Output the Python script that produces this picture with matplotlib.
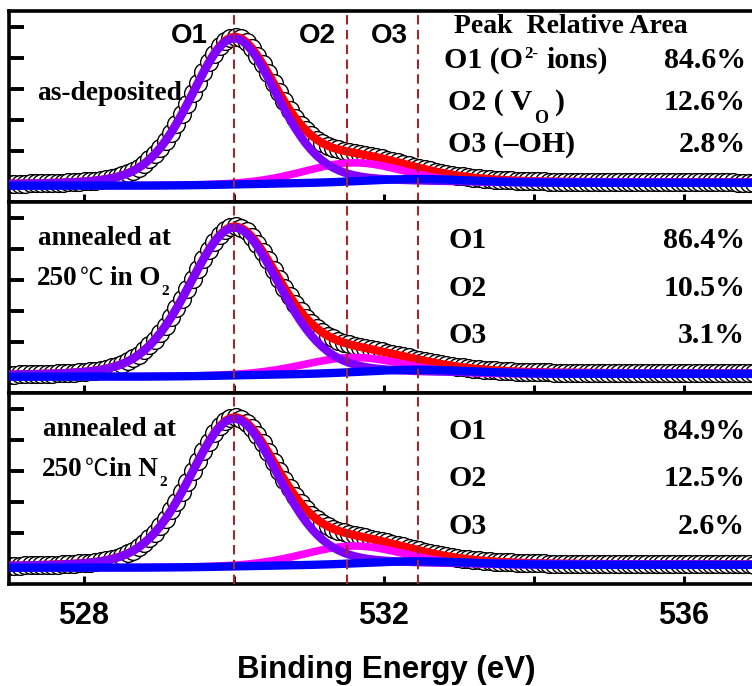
import numpy as np
import matplotlib
matplotlib.use("Agg")
import matplotlib.pyplot as plt
from matplotlib.ticker import FixedLocator, NullFormatter

# ---------------- data ----------------
energy_start, energy_stop, energy_step = 527.0, 537.0, 0.072
# fitted components for each sample (as-deposited, O2 anneal, N2 anneal)
o1_center = [530.00, 530.00, 530.00]
o1_height = [4.72, 4.77, 4.77]
o1_fwhm = [1.36, 1.44, 1.41]
o1_lorentz = [0.25, 0.25, 0.25]
o2_center = [531.60, 531.60, 531.60]
o2_height = [0.66, 0.54, 0.62]
o2_fwhm = [1.55, 1.55, 1.55]
o2_lorentz = [0.10, 0.10, 0.10]
o3_center = [532.45, 532.45, 532.45]
o3_height = [0.13, 0.14, 0.12]
o3_fwhm = [1.70, 1.70, 1.70]
o3_lorentz = [0.10, 0.10, 0.10]
background_low = [-0.12, -0.12, -0.12]
background_high = [-0.03, -0.03, -0.03]
reference_energies = [530.0, 531.5, 532.45]
peak_labels = ["O1", "O2", "O3"]
table_header = "Peak  Relative Area"
o1_area = ["84.6%", "86.4%", "84.9%"]
o2_area = ["12.6%", "10.5%", "12.5%"]
o3_area = ["2.8%", "3.1%", "2.6%"]
x_ticks = [528, 532, 536]
x_minor_ticks = [530, 534]
y_ticks = [1, 2, 3, 4, 5]
x_label = "Binding Energy (eV)"

# ---------------- layout ----------------
W, H = 752, 686
LEFT, AXW, TOP, PH = 9, 750, 11, 191
SERIF = ["Liberation Serif", "Noto Sans CJK SC", "DejaVu Serif"]
CJK = ["Noto Sans CJK SC", "DejaVu Sans"]
SANS = ["Liberation Sans", "DejaVu Sans"]
plt.rcParams["font.family"] = SANS
plt.rcParams["font.weight"] = "bold"

C_PURPLE, C_MAG, C_RED, C_BLUE = "#8000FF", "#FF00FF", "#FF0000", "#0000FF"
C_DASH = "#A0282D"

fig = plt.figure(figsize=(W / 100, H / 100), dpi=100)


def pv(x, c, h, f, eta):
    u = (x - c) / f
    g = np.exp(-4 * np.log(2) * u ** 2)
    l = 1.0 / (1 + 4 * u ** 2)
    return h * (eta * l + (1 - eta) * g)


E = np.arange(energy_start, energy_stop + 1e-9, energy_step)
for i in range(3):
    bottom_px = TOP + PH * (i + 1)
    ax = fig.add_axes([LEFT / W, 1 - bottom_px / H, AXW / W, PH / H])
    p1 = pv(E, o1_center[i], o1_height[i], o1_fwhm[i], o1_lorentz[i])
    p2 = pv(E, o2_center[i], o2_height[i], o2_fwhm[i], o2_lorentz[i])
    p3 = pv(E, o3_center[i], o3_height[i], o3_fwhm[i], o3_lorentz[i])
    tot = p1 + p2 + p3
    frac = np.cumsum(tot) / np.sum(tot)
    bg = background_low[i] + (background_high[i] - background_low[i]) * frac
    envelope = bg + tot
    ax.plot(E, envelope, ls="none", marker="o", ms=12.8, mfc="white",
            mec="black", mew=1.0, zorder=2)
    ax.plot(E, envelope, color=C_RED, lw=6, zorder=3, solid_capstyle="butt")
    ax.plot(E, bg + p2, color=C_MAG, lw=5.5, zorder=4, solid_capstyle="butt")
    ax.plot(E, bg + p1, color=C_PURPLE, lw=6, zorder=5, solid_capstyle="butt")
    ax.plot(E, bg + p3, color=C_BLUE, lw=6, zorder=6, solid_capstyle="butt")
    for xe in reference_energies:
        ax.axvline(xe, color=C_DASH, lw=1.5, ls=(0, (4.5, 2.6)), zorder=8)
    ax.set_xlim(527, 537)
    ax.set_ylim(-0.645, 5.516)
    ax.xaxis.set_major_locator(FixedLocator(x_ticks))
    ax.xaxis.set_minor_locator(FixedLocator(x_minor_ticks))
    ax.yaxis.set_major_locator(FixedLocator(y_ticks))
    ax.yaxis.set_major_formatter(NullFormatter())
    ax.tick_params(axis="x", which="both", direction="in", length=5.5,
                   width=2.2, top=False, labelsize=22, pad=12,
                   labelbottom=(i == 2))
    ax.tick_params(axis="y", which="major", direction="in", length=11,
                   width=2.8, right=False)
    for sp in ax.spines.values():
        sp.set_linewidth(2.6)
    for lab in ax.get_xticklabels():
        lab.set_fontweight("bold")

renderer = fig.canvas.get_renderer()


def ptext(x, y, s, **kw):
    return fig.text(x / W, 1 - y / H, s, va="baseline", **kw)


def rich(x, y, parts):
    """parts: list of (text, fontsize, dy_px, gap_before_px, family, weight)"""
    cur = x
    for s, fs, dy, gap, fam, wt in parts:
        cur += gap
        t = ptext(cur, y + dy, s, fontsize=fs, fontweight=wt, family=fam,
                  ha="left", zorder=10)
        cur = t.get_window_extent(renderer).x1


# peak labels in top panel
for lab, xp in zip(peak_labels, [189, 317, 389]):
    ptext(xp, 43, lab, fontsize=20, fontweight="bold", family=SANS, ha="center")

# sample labels
ptext(37, 100, "as-deposited", fontsize=19.8, fontweight="bold", family=SERIF)
for i, (gas, x0, sep) in enumerate([("O", 38, 7), ("N", 43, 1)], start=1):
    top = TOP + PH * i
    ptext(x0, top + 43, "annealed at", fontsize=19.5, fontweight="bold", family=SERIF)
    rich(x0 - 1, top + 83, [("250", 19.5, 0, 0, SERIF, "bold"),
                            ("℃", 17, 0, 2, CJK, "normal"),
                            ("in " + gas, 19.5, 0, sep, SERIF, "bold"),
                            ("2", 11, 10, 1, SERIF, "bold")])

# table in top panel
ptext(454, 33, table_header, fontsize=20, fontweight="bold", family=SERIF)
rich(444, 68, [("O1 (O", 21.5, 0, 0, SERIF, "bold"), ("2-", 12, -10, 1, SERIF, "bold"),
               ("ions)", 21.5, 0, 8, SERIF, "bold")])
rich(448, 110, [("O2 ( V", 21.5, 0, 0, SERIF, "bold"), ("O", 13, 13, 2, SERIF, "bold"),
                (")", 21.5, 0, 6, SERIF, "bold")])
ptext(448, 152, "O3 (–OH)", fontsize=21.5, fontweight="bold", family=SERIF)
for yy, val in zip([68, 110, 152], [o1_area[0], o2_area[0], o3_area[0]]):
    ptext(746, yy, val, fontsize=21.5, fontweight="bold", family=SERIF, ha="right")

# tables in lower panels
for i in (1, 2):
    top = TOP + PH * i
    for k, (name, val) in enumerate(zip(peak_labels, [o1_area[i], o2_area[i], o3_area[i]])):
        yy = top + 46 + 47.5 * k
        ptext(448, yy, name, fontsize=21.5, fontweight="bold", family=SERIF)
        ptext(745, yy, val, fontsize=21.5, fontweight="bold", family=SERIF, ha="right")

# x label
ptext(386.5, 678, x_label, fontsize=22.5, fontweight="bold", family=SANS, ha="center")

fig.savefig("out.png", dpi=100)
